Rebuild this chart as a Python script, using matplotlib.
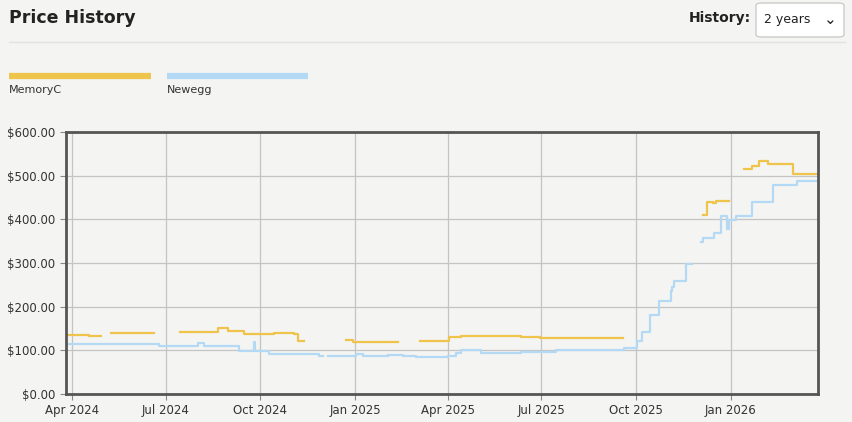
import numpy as np, pandas as pd
import matplotlib
matplotlib.use("Agg")
import matplotlib.pyplot as plt
from matplotlib.patches import FancyBboxPatch

nan = np.nan
base = pd.Timestamp("2024-04-01")
memoryc_days = [-6,16,28,38,80,105,142,151,167,196,216,220,225,266,273,317,338,366,378,436,455,535,613,617,623,626,638,653,661,668,676,701,725]
memoryc_vals = [135,132,nan,140,nan,142,151,145,137,139,137,121,nan,123,119,nan,122,131,133,130,128,nan,410,440,437,442,nan,515,522,534,527,504,504]
newegg_days = [-6,84,122,128,162,177,178,191,240,244,249,276,283,307,322,334,365,373,378,397,436,470,514,536,549,554,562,570,582,583,585,597,603,611,613,624,631,637,638,645,661,681,705,725]
newegg_vals = [115,110,117,110,98,120,98,92,88,nan,87,91,87,90,88,85,88,95,100,95,97,100,101,106,122,143,181,212,237,244,258,297,nan,348,358,368,408,378,398,408,440,479,488,488]
tick_labels = ["Apr 2024","Jul 2024","Oct 2024","Jan 2025","Apr 2025","Jul 2025","Oct 2025","Jan 2026"]

bg = "#f4f4f2"
fig = plt.figure(figsize=(8.53,4.22), dpi=100, facecolor=bg)
W,H = 853,422
ax = fig.add_axes([66/W, 1-394/H, (818-66)/W, (394-132)/H], facecolor=bg)

def dates(d): return [base + pd.Timedelta(days=x) for x in d]
ax.step(dates(memoryc_days), memoryc_vals, where="post", color="#eec44a", lw=1.6)
ax.step(dates(newegg_days), newegg_vals, where="post", color="#b3d9f5", lw=1.6)

ax.set_xlim(base+pd.Timedelta(days=-6), base+pd.Timedelta(days=725))
ax.set_ylim(0,600)
ax.set_yticks(range(0,601,100))
ax.set_yticklabels([f"${v}.00" for v in range(0,601,100)])
ticks = pd.date_range("2024-04-01", periods=8, freq="3MS")
ax.set_xticks(ticks)
ax.set_xticklabels(tick_labels)
ax.tick_params(labelsize=8.5, colors="#333333", length=4, color="#888")
ax.grid(True, color="#c4c4c4", lw=0.9)
ax.set_axisbelow(True)
for s in ax.spines.values():
    s.set_color("#555555"); s.set_linewidth(2)

fig.text(9/W, 1-18/H, "Price History", fontsize=12.5, fontweight="bold", color="#222", va="center")
fig.add_artist(plt.Line2D([9/W, 845/W], [1-42/H]*2, color="#e2e2e2", lw=1))
fig.text(751/W, 1-18/H, "History:", fontsize=10, fontweight="bold", color="#222", va="center", ha="right")
fig.add_artist(FancyBboxPatch((756/W, 1-37/H), 88/W, 34/H, boxstyle="round,pad=0,rounding_size=0.006",
                              transform=fig.transFigure, fc="white", ec="#cccccc", lw=1))
fig.text(764/W, 1-20/H, "2 years", fontsize=9, color="#222", va="center")
fig.text(830/W, 1-20/H, "⌄", fontsize=11, color="#222", va="center", ha="center")
fig.add_artist(plt.Line2D([9/W,151/W],[1-76/H]*2, color="#eec44a", lw=4.5, solid_capstyle="butt"))
fig.add_artist(plt.Line2D([167/W,308/W],[1-76/H]*2, color="#b3d9f5", lw=4.5, solid_capstyle="butt"))
fig.text(9/W, 1-90/H, "MemoryC", fontsize=8, color="#333", va="center")
fig.text(167/W, 1-90/H, "Newegg", fontsize=8, color="#333", va="center")
fig.savefig("out.png", dpi=100, facecolor=bg)
